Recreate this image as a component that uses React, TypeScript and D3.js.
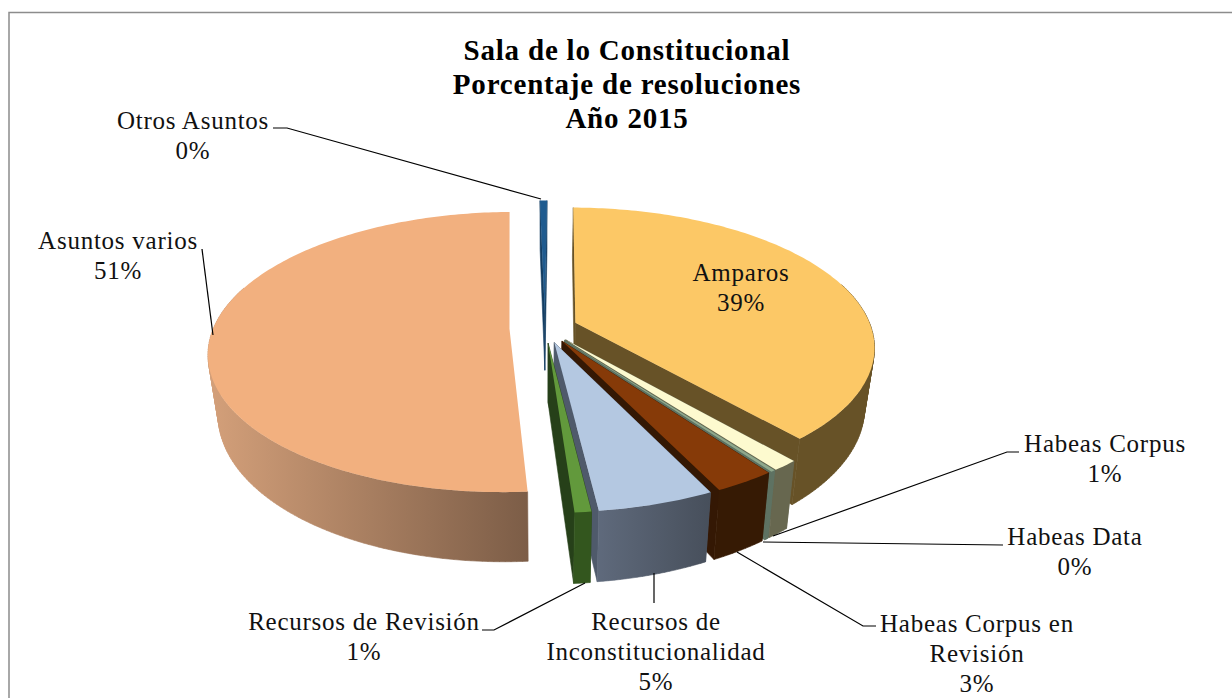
import React from "react";
import * as d3 from "d3";

const categories = ["Amparos", "Habeas Corpus", "Habeas Data", "Habeas Corpus en Revisión", "Recursos de Inconstitucionalidad", "Recursos de Revisión", "Asuntos varios", "Otros Asuntos"];
const values = [38.5, 1.2, 0.2, 2.8, 5.28, 0.75, 50.82, 0.45];
const explodes = [0.11, 0.11, 0.11, 0.11, 0.11, 0.11, 0.12, 0.11];
const topColors = ["#fcc866", "#fdfacf", "#8fa88c", "#863a08", "#b4c8e1", "#62993c", "#f2b07f", "#1f5b8f"];
const faceColors = ["#675227", "#67674f", "#5e7262", "#341804", "#4f5a6b", "#264019", "none", "#143e63"];
const wallLeft = ["#675227", "#67674f", "#5e7262", "#361a04", "#5f6a7c", "#33561e", "#d4a07a", "#1c4f7c"];
const wallRight = ["#675227", "#67674f", "#5e7262", "#361a04", "#474f5b", "#33561e", "#7c5d47", "#143e63"];
const paintOrder = [7, 0, 6, 1, 2, 3, 4, 5];
const titleLines = ["Sala de lo Constitucional", "Porcentaje de resoluciones", "Año 2015"];

const labelLayout = [
  { lines: ["Amparos", "39%"], x: 741, y: 281 },
  { lines: ["Habeas Corpus", "1%"], x: 1105, y: 452 },
  { lines: ["Habeas Data", "0%"], x: 1075, y: 545 },
  { lines: ["Habeas Corpus en", "Revisión", "3%"], x: 977, y: 632 },
  { lines: ["Recursos de", "Inconstitucionalidad", "5%"], x: 656, y: 630 },
  { lines: ["Recursos de Revisión", "1%"], x: 364, y: 630 },
  { lines: ["Asuntos varios", "51%"], x: 118, y: 249 },
  { lines: ["Otros Asuntos", "0%"], x: 193, y: 129 },
];
const leaders: [number, number][][] = [
  [[1019, 452], [1007, 452], [773, 536]],
  [[1003, 545], [763, 542]],
  [[876, 626], [863, 626], [737, 552]],
  [[654, 603], [654, 573]],
  [[482, 630], [494, 630], [585, 583]],
  [[202, 249], [213, 335]],
  [[273, 128], [287, 128], [541, 199]],
];

const cx = 545, cy = 328, rx = 296, ry = 136, k = 0.166, depth = 58, shrink = 0.97;
const startDeg = 0.5;

type P = [number, number];
const project = (u: number, v: number, bottom: boolean): P => {
  const s = 1 / (1 - k * v);
  const x = cx + u * s * rx;
  const y = cy + v * s * ry;
  return bottom ? [cx + (x - cx) * shrink, y + depth * s] : [x, y];
};
const line = d3.line<P>().x((d) => d[0]).y((d) => d[1]);

const arcs = d3.pie<number>().sort(null)
  .startAngle((startDeg * Math.PI) / 180)
  .endAngle((startDeg * Math.PI) / 180 + 2 * Math.PI)(values);

const quad = (pts: P[]) => {
  const ordered = d3.polygonArea(pts) < 0 ? [...pts].reverse() : pts;
  return line(ordered)! + "Z";
};

const slices = arcs.map((a, i) => {
  const mid = (a.startAngle + a.endAngle) / 2;
  const ou = explodes[i] * Math.sin(mid);
  const ov = -explodes[i] * Math.cos(mid);
  const n = Math.max(2, Math.ceil((a.endAngle - a.startAngle) * 60));
  const ts = d3.range(n + 1).map((j) => a.startAngle + ((a.endAngle - a.startAngle) * j) / n);
  const rim = (b: boolean) => ts.map((t) => project(ou + Math.sin(t), ov - Math.cos(t), b));
  const apex = (b: boolean) => project(ou, ov, b);
  const topRim = rim(false), botRim = rim(true);
  const top = line([apex(false), ...topRim])! + "Z";
  const wall = d3.range(n)
    .filter((j) => Math.cos(ts[j]) < 0.3)
    .map((j) => quad([topRim[j], topRim[j + 1], botRim[j + 1], botRim[j]]))
    .join("");
  const faceA = quad([apex(false), topRim[0], botRim[0], apex(true)]);
  const faceB = quad([apex(false), topRim[n], botRim[n], apex(true)]);
  const xs = [...topRim, ...botRim].map((p) => p[0]);
  return { top, wall, faceA, faceB, x0: d3.min(xs)!, x1: d3.max(xs)! };
});

const serif = "'Liberation Serif', serif";

export default function App() {
  return (
    <svg width={1232} height={698} style={{ position: "absolute", left: 0, top: 0, background: "#fff" }}>
      <defs>
        {slices.map((s, i) => (
          <linearGradient key={i} id={`w${i}`} gradientUnits="userSpaceOnUse" x1={s.x0} x2={s.x1} y1={0} y2={0}>
            <stop offset="0" stopColor={wallLeft[i]} />
            <stop offset="1" stopColor={wallRight[i]} />
          </linearGradient>
        ))}
      </defs>
      <rect x={9} y={12.5} width={1240} height={720} fill="#fff" stroke="#8c8c8c" strokeWidth={1.5} />
      {paintOrder.map((i) => (
        <g key={categories[i]}>
          <path d={slices[i].faceA} fill={faceColors[i]} stroke={faceColors[i]} strokeWidth={0.6} />
          <path d={slices[i].faceB} fill={faceColors[i]} stroke={faceColors[i]} strokeWidth={0.6} />
          <path d={slices[i].wall} fill={`url(#w${i})`} stroke={`url(#w${i})`} strokeWidth={0.6} />
          <path d={slices[i].top} fill={topColors[i]} />
        </g>
      ))}
      {leaders.map((l, i) => (
        <path key={i} d={line(l as P[])!} fill="none" stroke="#000" strokeWidth={1.2} />
      ))}
      <g fontFamily={serif} fontWeight="bold" fontSize={29} textAnchor="middle" fill="#000" letterSpacing={0.8}>
        {titleLines.map((t, i) => (
          <text key={t} x={627} y={60 + i * 34}>{t}</text>
        ))}
      </g>
      <g fontFamily={serif} fontSize={25} textAnchor="middle" fill="#111" letterSpacing={0.75}>
        {labelLayout.map((l) =>
          l.lines.map((t, j) => (
            <text key={t + l.x} x={l.x} y={l.y + j * 30}>{t}</text>
          ))
        )}
      </g>
    </svg>
  );
}
